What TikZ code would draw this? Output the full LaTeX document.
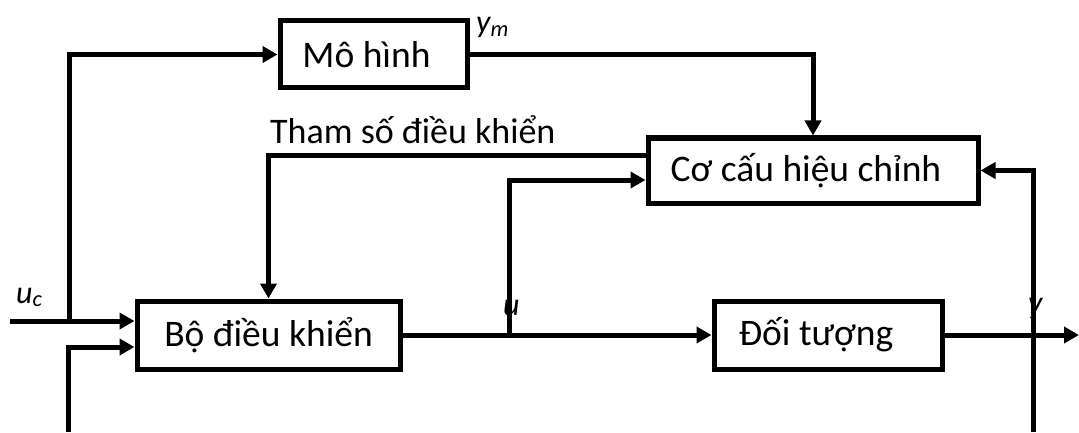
\documentclass[tikz,border=0pt]{standalone}
\usepackage{fontspec}
\setmainfont{Carlito}
\usetikzlibrary{arrows.meta}
\begin{document}
\begin{tikzpicture}[x=1pt,y=1pt,
  wire/.style={line width=5pt},
  arr/.style={wire,-{Triangle[length=15pt,width=16pt]}},
  block/.style={draw,line width=5pt,inner sep=0pt,font=\fontsize{37.5}{42}\selectfont},
  sig/.style={inner sep=0pt,font=\fontsize{32}{36}\selectfont\itshape},
  note/.style={inner sep=0pt,font=\fontsize{36}{40}\selectfont}]
\useasboundingbox (0,0) rectangle (1079,432);

% blocks
\node[block,minimum width=187pt,minimum height=67pt] (mo) at (373.5,377.5) {\hspace*{-14pt}Mô hình};
\node[block,minimum width=263pt,minimum height=68pt] (bo) at (268.5,97) {Bộ điều khiển};
\node[block,minimum width=330pt,minimum height=65pt] (co) at (813,261.5) {\hspace*{-14pt}Cơ cấu hiệu chỉnh};
\node[block,minimum width=228pt,minimum height=68pt] (dt) at (828,97) {\hspace*{-24pt}Đối tượng};

% free ends and branch points
\coordinate (ucin) at (10,111);
\coordinate (br) at (69,111);
\coordinate (fb) at (68,0);
\coordinate (ub) at (509,97);
\coordinate (fy) at (1033,0);
\coordinate (out) at (1079,97);

% signal labels
\node[sig,anchor=base west] (ucl) at (16,129) {u\textsubscript{c}};
\node[sig,anchor=base west] (yml) at (476,399) {y\textsubscript{m}};
\node[sig,anchor=base west] (ul) at (503,117) {u};
\node[sig,anchor=base west] (yl) at (1028,119) {y};
\node[note,anchor=base west] (par) at (270,289) {Tham số điều khiển};

% connectors
\draw[arr] (ucin) -- ([yshift=14pt]bo.west);
\draw[arr] (br) |- (mo.west);
\draw[arr] (fb) |- ([yshift=-12pt]bo.west);
\draw[arr] (mo.east) -| (co.north);
\draw[arr] ([yshift=15.5pt]co.west) -| (bo.north);
\draw[arr] (bo) -- (dt);
\draw[arr] (ub) |- ([yshift=-9.5pt]co.west);
\draw[arr] (fy) |- (co.east);
\draw[arr] (dt) -- (out);
\end{tikzpicture}
\end{document}
